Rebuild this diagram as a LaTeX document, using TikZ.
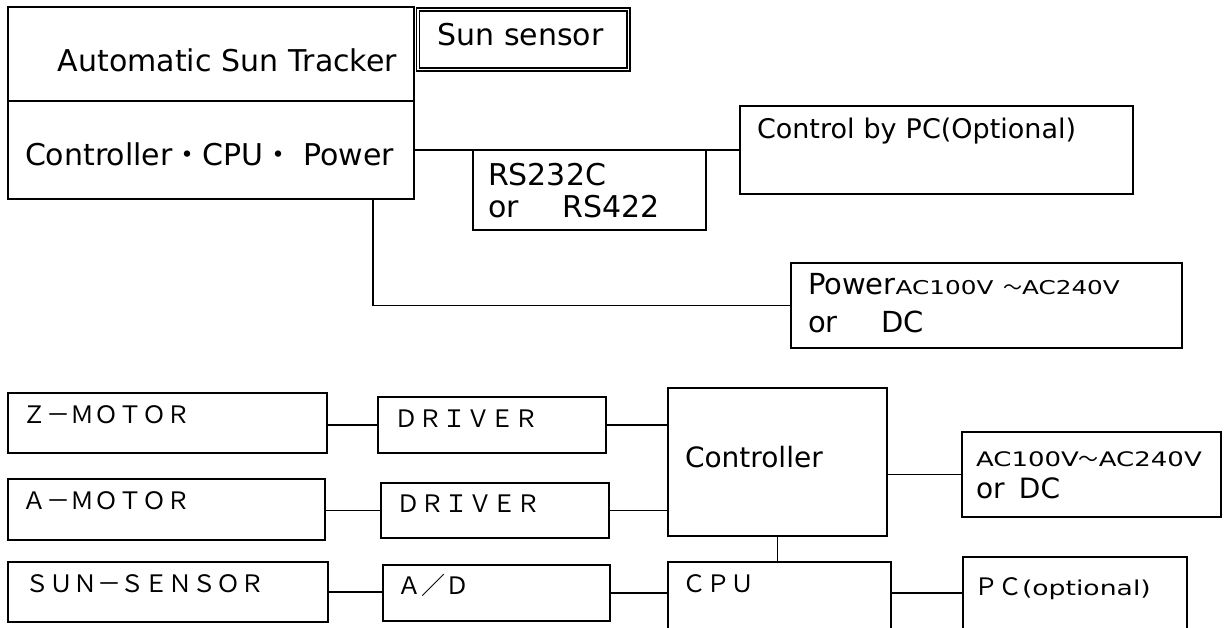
\documentclass[tikz,border=0pt]{standalone}
\usepackage{fontspec}
\setmainfont{DejaVu Sans}
\newfontfamily\jp{Noto Sans CJK JP}
\newfontfamily\acfont{DejaVu Sans}[FakeStretch=1.3]

\begin{document}
\begin{tikzpicture}
  [x=1pt, y=-1pt,
    line width=1.5pt,
    every node/.style={draw, rectangle, anchor=north west, outer sep=0pt, inner ysep=0pt, align=left},
    blk/.style n args={4}{text width=#1, inner xsep=#2, text height=#3, text depth=#4},
    big/.style={font=\fontsize{30}{32}\selectfont},
    wide/.style={font=\jp\fontsize{24}{28}\selectfont},
    tall/.style={font=\fontsize{29}{38}\selectfont},
  ]
\useasboundingbox (0,0) rectangle (1224,628);

\node[big, align=right, blk={372pt}{17pt}{65pt}{29pt}] (tracker) at (8,7) {Automatic Sun Tracker};
\node[big, blk={372pt}{17pt}{65pt}{33pt}] (unit) at (8,101) {Controller{\jp ・}CPU{\jp ・} Power};
\node[big, double, double distance=1.5pt, blk={172.5pt}{19pt}{36.5pt}{23.5pt}] (sensor) at (418,9.5) {Sun sensor};
\node[big, blk={203pt}{15pt}{36pt}{44pt}] (rs) at (473,150) {RS232C\\or\ \hspace{34pt}RS422};
\node[big, font=\fontsize{27}{32}\selectfont, blk={359pt}{17pt}{33pt}{55pt}] (pcctrl) at (740,106) {Control by PC(Optional)};
\node[tall, blk={357pt}{17pt}{32pt}{53pt}] (power) at (791,263)
  {Power{\acfont\fontsize{19}{20}\selectfont AC100V {\jp ～}AC240V}\\or\ \hspace{34pt}DC};

\node[wide, blk={289pt}{15pt}{30pt}{30pt}] (zmotor) at (8,393) {Ｚ－ＭＯＴＯＲ};
\node[wide, blk={196pt}{16pt}{30pt}{26pt}] (drvz) at (378,397) {ＤＲＩＶＥＲ};
\node[wide, blk={287pt}{15pt}{30pt}{31pt}] (amotor) at (8,479) {Ａ－ＭＯＴＯＲ};
\node[wide, blk={198pt}{15pt}{29pt}{26pt}] (drva) at (381,483) {ＤＲＩＶＥＲ};
\node[wide, blk={286pt}{17pt}{30pt}{30pt}] (sunsens) at (8,562) {ＳＵＮ－ＳＥＮＳＯＲ};
\node[wide, blk={199pt}{14pt}{29pt}{27pt}] (ad) at (383,565) {Ａ／Ｄ};
\node[big, font=\fontsize{28}{32}\selectfont, blk={185pt}{17pt}{79pt}{69pt}] (ctl) at (668,388) {Controller};
\node[wide, blk={195pt}{14pt}{30pt}{58pt}] (cpu) at (668,562) {ＣＰＵ};
\node[tall, font=\fontsize{28}{32}\selectfont, blk={231pt}{14pt}{34pt}{51pt}] (ac) at (962,432)
  {{\acfont\fontsize{20}{22}\selectfont AC100V{\jp ～}AC240V}\\or\ \hspace{5pt}DC};
\node[wide, blk={202pt}{11pt}{38pt}{55pt}] (pc) at (963,557)
  {ＰＣ{\acfont\fontsize{20.5}{22}\selectfont (optional)}};

\draw (unit.east) -- (pcctrl.west);
\draw ([xshift=-41pt]unit.south east) |- (power.west);
\draw (drvz.west -| zmotor.east) -- (drvz.west);
\draw (drvz.east) -- (drvz.east -| ctl.west);
\draw (drva.west -| amotor.east) -- (drva.west);
\draw (drva.east) -- (drva.east -| ctl.west);
\draw (sunsens.east) -- (sunsens.east -| ad.west);
\draw (ad.east) -- (ad.east -| cpu.west);
\draw (ac.west -| ctl.east) -- (ac.west);
\draw (ctl.south) -- (ctl.south |- cpu.north);
\draw (ad.east -| cpu.east) -- (ad.east -| pc.west);
\end{tikzpicture}
\end{document}
